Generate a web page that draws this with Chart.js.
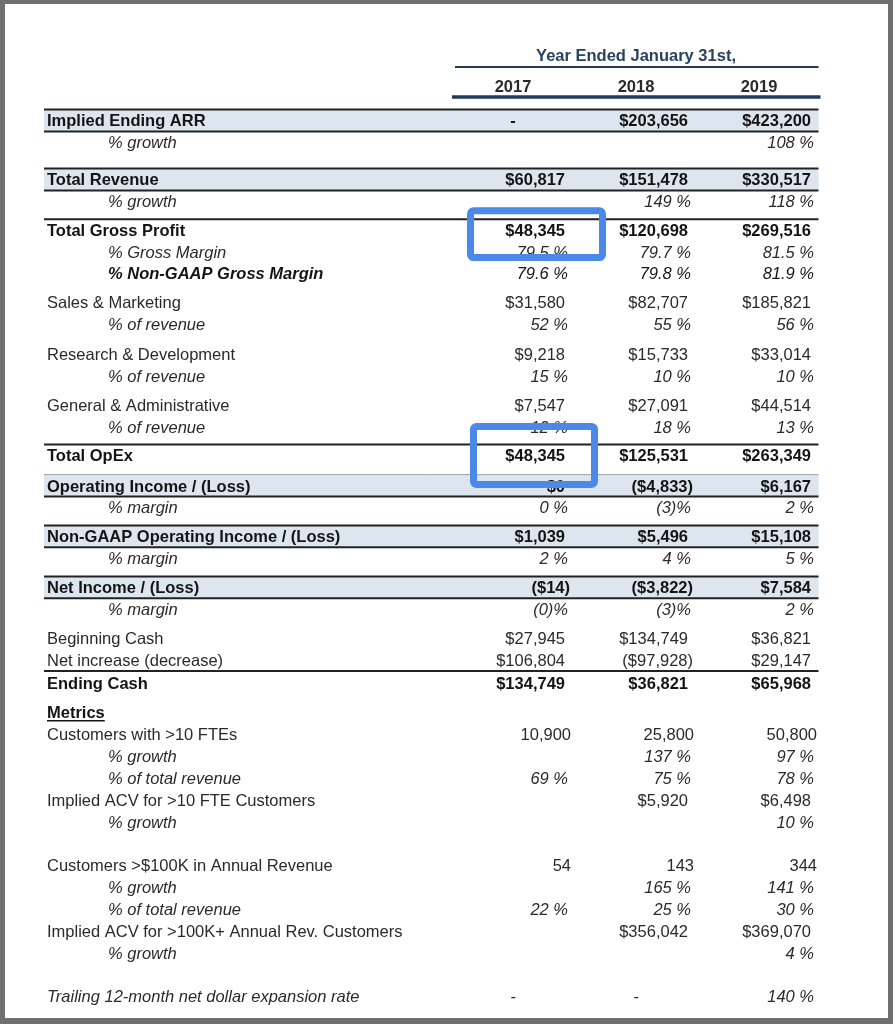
<!DOCTYPE html>
<html>
<head>
<meta charset="utf-8">
<script src="https://cdn.jsdelivr.net/npm/chart.js@4/dist/chart.umd.min.js"></script>
<style>
  html, body { margin: 0; padding: 0; background: #707070; }
  #wrap { width: 893px; height: 1024px; }
  canvas { display: block; }
</style>
</head>
<body>
<div id="wrap"><canvas id="c" width="893" height="1024"></canvas></div>
<script>
// ---------------- DATA ----------------
const headerTitle = 'Year Ended January 31st,';
const years = ['2017', '2018', '2019'];

const rowLabels = [
  'Implied Ending ARR', '% growth',
  'Total Revenue', '% growth',
  'Total Gross Profit', '% Gross Margin', '% Non-GAAP Gross Margin',
  'Sales & Marketing', '% of revenue',
  'Research & Development', '% of revenue',
  'General & Administrative', '% of revenue',
  'Total OpEx',
  'Operating Income / (Loss)', '% margin',
  'Non-GAAP Operating Income / (Loss)', '% margin',
  'Net Income / (Loss)', '% margin',
  'Beginning Cash', 'Net increase (decrease)', 'Ending Cash',
  'Metrics',
  'Customers with >10 FTEs', '% growth', '% of total revenue',
  'Implied ACV for >10 FTE Customers', '% growth',
  'Customers >$100K in Annual Revenue', '% growth', '% of total revenue',
  'Implied ACV for >100K+ Annual Rev. Customers', '% growth',
  'Trailing 12-month net dollar expansion rate'
];

const values2017 = [
  '-', '', '$60,817', '', '$48,345', '79.5 %', '79.6 %', '$31,580', '52 %',
  '$9,218', '15 %', '$7,547', '12 %', '$48,345', '$0', '0 %', '$1,039', '2 %',
  '($14)', '(0)%', '$27,945', '$106,804', '$134,749', '', '10,900', '', '69 %',
  '', '', '54', '', '22 %', '', '', '-'
];
const values2018 = [
  '$203,656', '', '$151,478', '149 %', '$120,698', '79.7 %', '79.8 %', '$82,707', '55 %',
  '$15,733', '10 %', '$27,091', '18 %', '$125,531', '($4,833)', '(3)%', '$5,496', '4 %',
  '($3,822)', '(3)%', '$134,749', '($97,928)', '$36,821', '', '25,800', '137 %', '75 %',
  '$5,920', '', '143', '165 %', '25 %', '$356,042', '', '-'
];
const values2019 = [
  '$423,200', '108 %', '$330,517', '118 %', '$269,516', '81.5 %', '81.9 %', '$185,821', '56 %',
  '$33,014', '10 %', '$44,514', '13 %', '$263,349', '$6,167', '2 %', '$15,108', '5 %',
  '$7,584', '2 %', '$36,821', '$29,147', '$65,968', '', '50,800', '97 %', '78 %',
  '$6,498', '10 %', '344', '141 %', '30 %', '$369,070', '4 %', '140 %'
];

// ---------------- STYLE / LAYOUT (kept apart from data) ----------------
const rowKinds = [
  'band', 'pct', 'band', 'pct', 'total', 'pct', 'pctBold', 'item', 'pct', 'item', 'pct',
  'item', 'pct', 'total', 'band', 'pct', 'band', 'pct', 'band', 'pct', 'item', 'itemUnder',
  'bold', 'heading', 'item', 'pct', 'pct', 'item', 'pct', 'item', 'pct', 'pct', 'item', 'pct',
  'italic'
];
const gapBefore = [
  0, 0, 0.7, 0, 0.3, 0, 0, 0.33, 0, 0.35, 0, 0.33, 0, 0.3, 0.4, 0, 0.33, 0, 0.33, 0,
  0.33, 0, 0.06, 0.33, 0, 0, 0, 0, 0, 1, 0, 0, 0, 0, 1
];
const highlights = [
  { col: 0, r0: 4, r1: 5, dx0: -42.5, dx1: 89.5, dy0: -19, dy1: 6 },
  { col: 0, r0: 13, r1: 13, dx0: -39.5, dx1: 81.5, dy0: -28.5, dy1: 29.5 }
];

const FONT_FAMILY = '"Liberation Sans", Arial, Helvetica, sans-serif';
const FS = 16.5;
const BASE = 6.0;
const COLORS = {
  frame: '#707070', page: '#ffffff', band: '#dde5ef', rule: '#222222',
  navy: '#1f3a5a', title: '#28425f', textBold: '#141414', text: '#2a2a2a',
  highlight: '#4a89e8'
};

const rowPos = [];
(function () {
  let u = 0;
  for (let i = 0; i < rowLabels.length; i++) {
    u += gapBefore[i];
    rowPos.push(u);
    u += 1;
  }
})();

const allValues = [values2017, values2018, values2019];

function fnt(style, weight) { return `${style} ${weight} ${FS}px ${FONT_FAMILY}`; }
function labelFont(kind) {
  switch (kind) {
    case 'band': case 'total': case 'bold': case 'heading': return fnt('normal', 'bold');
    case 'pct': case 'italic': return fnt('italic', 'normal');
    case 'pctBold': return fnt('italic', 'bold');
    default: return fnt('normal', 'normal');
  }
}
function valueFont(kind) {
  switch (kind) {
    case 'band': case 'total': case 'bold': return fnt('normal', 'bold');
    case 'pct': case 'pctBold': case 'italic': return fnt('italic', 'normal');
    default: return fnt('normal', 'normal');
  }
}
function isBold(kind) { return ['band', 'total', 'bold', 'heading', 'pctBold'].includes(kind); }

const tablePlugin = {
  id: 'tablePlugin',
  beforeDraw(chart) {
    const ctx = chart.ctx;
    ctx.save();
    ctx.fillStyle = COLORS.frame;
    ctx.fillRect(0, 0, chart.width, chart.height);
    ctx.fillStyle = COLORS.page;
    ctx.fillRect(5, 4, 883, 1014);
    ctx.restore();
  },
  beforeDatasetsDraw(chart) {
    const ctx = chart.ctx;
    const xs = chart.scales.x, ys = chart.scales.y;
    const left = 44, right = xs.getPixelForValue(2.5) - 2;
    const half = (ys.getPixelForValue(1) - ys.getPixelForValue(0)) / 2;
    ctx.save();
    ctx.fillStyle = COLORS.title;
    ctx.font = fnt('normal', 'bold');
    ctx.textAlign = 'center';
    ctx.textBaseline = 'alphabetic';
    ctx.fillText(headerTitle, xs.getPixelForValue(1), ys.getPixelForValue(-3.0) + BASE);
    ctx.fillStyle = '#2a2a2a';
    years.forEach((yr, c) => ctx.fillText(yr, xs.getPixelForValue(c), ys.getPixelForValue(-1.6) + BASE));
    ctx.strokeStyle = COLORS.navy;
    ctx.lineWidth = 2;
    let yl = ys.getPixelForValue(-2.45);
    ctx.beginPath(); ctx.moveTo(xs.getPixelForValue(-0.5) + 3.5, yl); ctx.lineTo(right, yl); ctx.stroke();
    ctx.lineWidth = 3.5;
    yl = ys.getPixelForValue(-1.08);
    ctx.beginPath(); ctx.moveTo(xs.getPixelForValue(-0.5) + 0.5, yl); ctx.lineTo(right + 2, yl); ctx.stroke();

    rowKinds.forEach((kind, r) => {
      const yc = ys.getPixelForValue(rowPos[r]);
      ctx.strokeStyle = COLORS.rule;
      ctx.lineWidth = 2;
      if (kind === 'band') {
        ctx.fillStyle = COLORS.band;
        ctx.fillRect(left, yc - half, right - left, half * 2);
        const prevKind = rowKinds[r - 1];
        ctx.beginPath();
        if (prevKind === 'total') { ctx.strokeStyle = '#9aa3ad'; ctx.lineWidth = 1; }
        ctx.moveTo(left, yc - half); ctx.lineTo(right, yc - half); ctx.stroke();
        ctx.strokeStyle = COLORS.rule; ctx.lineWidth = 2;
        ctx.beginPath(); ctx.moveTo(left, yc + half); ctx.lineTo(right, yc + half); ctx.stroke();
      } else if (kind === 'total') {
        ctx.beginPath(); ctx.moveTo(left, yc - half + 0.5); ctx.lineTo(right, yc - half + 0.5); ctx.stroke();
      } else if (kind === 'itemUnder') {
        ctx.beginPath(); ctx.moveTo(left, yc + half); ctx.lineTo(right, yc + half); ctx.stroke();
      }
    });

    ctx.textAlign = 'left';
    rowLabels.forEach((lab, r) => {
      const kind = rowKinds[r];
      const yb = ys.getPixelForValue(rowPos[r]) + BASE;
      const x = (kind === 'pct' || kind === 'pctBold') ? 108 : 47;
      ctx.font = labelFont(kind);
      ctx.fillStyle = isBold(kind) ? COLORS.textBold : COLORS.text;
      ctx.fillText(lab, x, yb);
      if (kind === 'heading') {
        const w = ctx.measureText(lab).width;
        ctx.lineWidth = 1.5; ctx.strokeStyle = COLORS.textBold;
        ctx.beginPath(); ctx.moveTo(x, yb + 2.5); ctx.lineTo(x + w, yb + 2.5); ctx.stroke();
      }
    });
    ctx.restore();
  },
  afterDatasetsDraw(chart) {
    const ctx = chart.ctx;
    const xs = chart.scales.x, ys = chart.scales.y;
    const colHalf = (xs.getPixelForValue(1) - xs.getPixelForValue(0)) / 2;
    ctx.save();
    ctx.textBaseline = 'alphabetic';
    chart.data.datasets.forEach((ds, di) => {
      const meta = chart.getDatasetMeta(di);
      meta.data.forEach((pt, i) => {
        const raw = ds.data[i];
        const t = raw.t, kind = rowKinds[raw.r];
        ctx.font = valueFont(kind);
        ctx.fillStyle = isBold(kind) ? COLORS.textBold : COLORS.text;
        const yb = pt.y + BASE;
        if (t === '-') {
          ctx.textAlign = 'center';
          ctx.fillText(t, pt.x, yb);
          return;
        }
        let pad = 0;
        if (t.endsWith('%')) pad = 3;
        else if (t.endsWith(')')) pad = 1;
        else if (t.startsWith('$')) pad = 6;
        ctx.textAlign = 'right';
        ctx.fillText(t, pt.x + colHalf - 3.5 - pad, yb);
      });
    });
    ctx.strokeStyle = COLORS.highlight;
    ctx.lineWidth = 7;
    ctx.lineJoin = 'round';
    highlights.forEach(h => {
      const cx = xs.getPixelForValue(h.col);
      const y0 = ys.getPixelForValue(rowPos[h.r0]) + h.dy0;
      const y1 = ys.getPixelForValue(rowPos[h.r1]) + h.dy1;
      ctx.beginPath();
      if (ctx.roundRect) ctx.roundRect(cx + h.dx0, y0, h.dx1 - h.dx0, y1 - y0, 3);
      else ctx.rect(cx + h.dx0, y0, h.dx1 - h.dx0, y1 - y0);
      ctx.stroke();
    });
    ctx.restore();
  }
};

const datasets = years.map((yr, c) => ({
  label: yr,
  data: allValues[c].map((t, r) => ({ x: c, y: rowPos[r], t: t, r: r })).filter(d => d.t !== ''),
  pointRadius: 0,
  pointHoverRadius: 0,
  showLine: false
}));

new Chart(document.getElementById('c'), {
  type: 'scatter',
  data: { datasets },
  options: {
    responsive: false,
    animation: false,
    devicePixelRatio: 1,
    layout: { padding: { left: 451.5, right: 72.5, top: 20, bottom: 10 } },
    scales: {
      x: { type: 'linear', min: -0.5, max: 2.5, display: false },
      y: { type: 'linear', reverse: true, min: -4.6, max: 40.9, display: false }
    },
    plugins: { legend: { display: false }, tooltip: { enabled: false } },
    events: []
  },
  plugins: [tablePlugin]
});
</script>
</body>
</html>
